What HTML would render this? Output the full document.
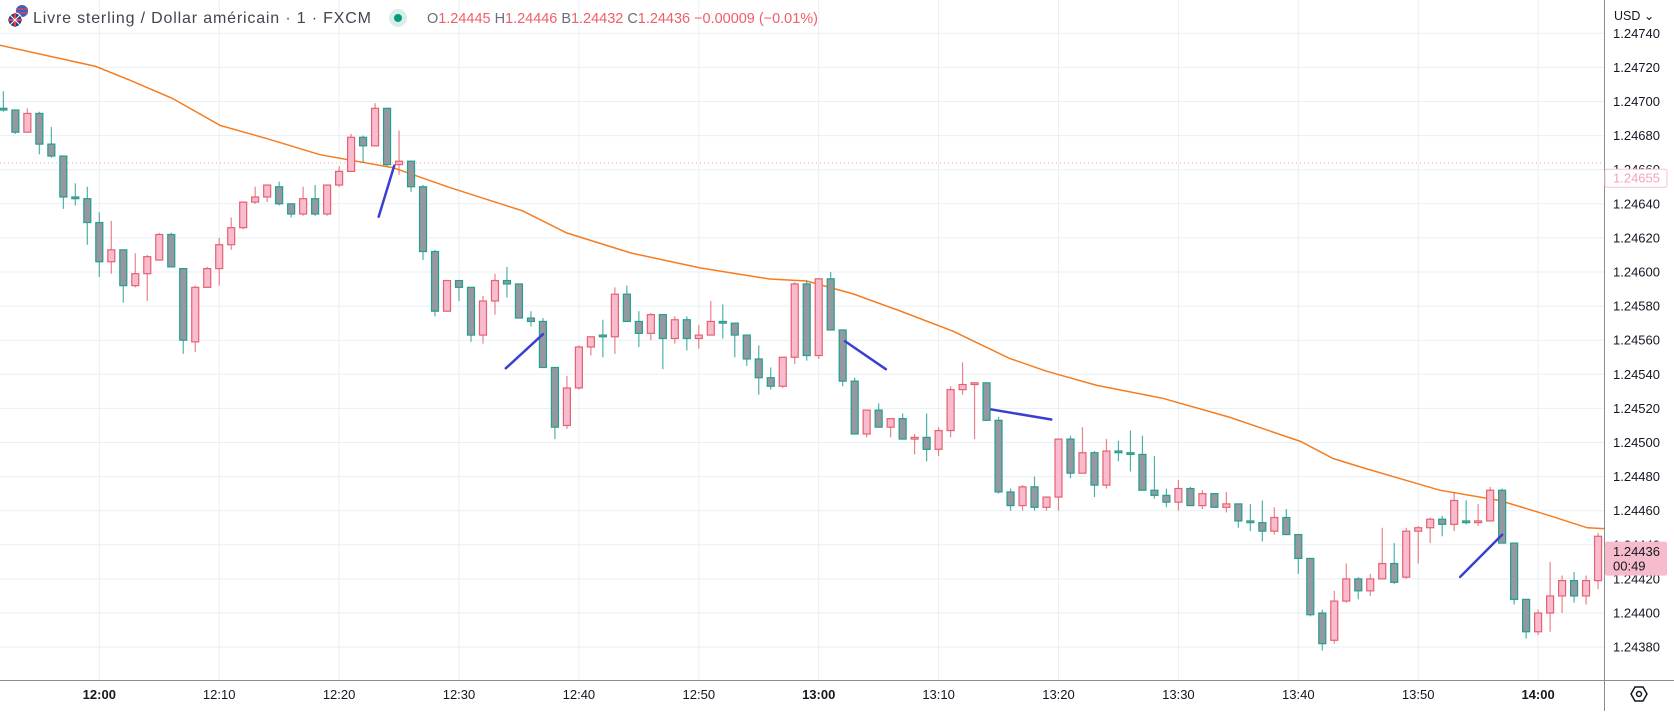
<!DOCTYPE html>
<html><head><meta charset="utf-8"><title>GBP/USD 1m</title>
<style>
html,body{margin:0;padding:0;background:#fff;}
body{width:1674px;height:711px;overflow:hidden;font-family:"Liberation Sans",sans-serif;}
svg text{font-family:"Liberation Sans",sans-serif;}
</style></head>
<body>
<svg id="chart" width="1674" height="711" viewBox="0 0 1674 711" xmlns="http://www.w3.org/2000/svg">
  <rect x="0" y="0" width="1674" height="711" fill="#ffffff"/>
  <g id="grid"></g>
  <g id="ma"></g>
  <g id="candles"></g>
  <g id="drawings"></g>
  <g id="axes"></g>
  <g>
    <g>
      <circle cx="22" cy="11" r="6" fill="#3b5fc0"/>
      <path d="M16 9h12M16 13h12" stroke="#e8434b" stroke-width="1.2"/>
      <circle cx="15" cy="20" r="7" fill="#2a3f8f" stroke="#fff" stroke-width="1"/>
      <path d="M8 20h14M15 13v14" stroke="#e8434b" stroke-width="2"/>
      <path d="M10 15l10 10M20 15l-10 10" stroke="#fff" stroke-width="1"/>
    </g>
    <text x="33" y="23" font-size="16" fill="#434651" textLength="338" lengthAdjust="spacing">Livre sterling / Dollar américain · 1 · FXCM</text>
    <circle cx="398" cy="18" r="9" fill="#d6efe9"/>
    <circle cx="398" cy="18" r="4" fill="#089981"/>
    <text x="427" y="23" font-size="14.5" textLength="391" lengthAdjust="spacing"><tspan fill="#6a6d78">O</tspan><tspan fill="#ef5f68">1.24445</tspan><tspan fill="#6a6d78"> H</tspan><tspan fill="#ef5f68">1.24446</tspan><tspan fill="#6a6d78"> B</tspan><tspan fill="#ef5f68">1.24432</tspan><tspan fill="#6a6d78"> C</tspan><tspan fill="#ef5f68">1.24436 −0.00009 (−0.01%)</tspan></text>
  </g>
</svg>
<script>
// candle data in price points: price = 1.24 + v / 100000
const minutes0 = -8; // first candle 11:52
const opens  = [696,695,682,693,675,668,644,643,629,606,613,592,599,607,622,602,559,591,602,616,626,641,644,650,640,634,643,634,651,659,679,674,696,663,665,650,612,577,595,591,563,583,595,593,573,571,544,510,532,556,563,562,587,571,564,575,561,572,561,563,571,570,563,549,538,533,550,593,551,596,566,536,505,519,509,514,502,503,496,507,531,534,535,513,471,463,474,462,468,502,482,494,475,495,494,493,472,469,465,473,463,470,462,464,454,453,448,456,446,432,400,384,407,420,413,420,429,421,448,450,455,452,454,453,454,472,441,408,389,400,410,419,410,419];
const highs  = [706,695,696,694,685,668,652,650,635,630,613,611,610,623,623,602,592,603,620,632,641,650,651,653,640,650,651,651,662,681,680,699,696,683,665,651,613,595,595,591,586,599,603,593,577,573,544,539,557,562,572,591,592,577,576,575,574,574,569,583,581,570,563,557,544,550,594,595,596,600,566,538,519,523,514,517,505,517,509,533,547,535,535,515,473,475,480,468,502,504,509,495,502,501,507,504,492,473,478,474,472,470,471,464,464,466,462,461,446,432,402,413,429,421,423,450,441,450,451,456,457,471,466,464,474,473,441,408,402,430,422,424,422,447];
const lows   = [694,681,682,669,667,637,639,616,597,599,582,591,583,607,603,552,553,591,592,613,625,640,641,639,632,633,633,633,650,659,664,674,662,657,647,607,574,577,583,559,558,575,585,573,568,544,502,508,531,551,550,552,571,556,560,543,558,554,555,563,561,550,545,528,531,532,546,548,549,566,533,505,503,509,503,502,493,489,492,503,528,502,513,470,460,460,460,460,460,479,482,468,473,489,483,472,467,462,460,463,461,462,459,450,448,442,446,446,423,398,378,382,406,408,410,420,417,420,429,441,445,448,452,451,454,441,405,385,387,389,400,406,405,414];
const closes = [695,682,693,675,668,644,643,629,606,613,592,599,609,622,603,560,591,602,616,626,641,644,651,640,634,643,634,651,659,679,674,696,663,665,650,612,577,595,591,563,583,595,593,573,571,544,509,532,556,562,562,587,571,564,575,561,572,561,563,571,570,563,549,538,533,550,593,551,596,566,536,505,519,509,514,502,503,496,507,531,534,535,513,471,463,474,462,468,502,482,494,475,495,494,493,472,469,465,473,463,470,462,464,454,453,448,456,446,432,399,382,407,420,413,420,429,418,448,450,455,452,466,453,454,472,441,408,389,400,410,419,410,419,445];
// 50-period moving average samples (minute offset from 12:00, value in points)
const maMinutes = [-8.3,-0.3,2.6,6.1,10.1,14.0,18.4,24.5,29.3,35.3,39.0,44.3,50.1,55.9,59.0,62.9,66.8,71.2,75.9,79.0,83.2,88.7,94.3,100.2,102.9,105.5,108.4,111.8,116.8,121.0,124.1,125.5];
const maValues  = [733,720.6,712.4,701.8,685.9,678.2,668.8,661.2,649.4,635.9,622.9,611.2,602.4,595.9,594.7,587.1,577.1,565.3,549.4,541.8,533.5,525.9,514.7,500.6,490.6,485,479,472,466,457,450,449.5];
// trend-line drawings: [startMinute, startValue, endMinute, endValue]
const lineStartMin = [23.3,33.9,62.2,74.4,113.5];
const lineStartVal = [632.4,543.5,559.4,519.4,421.2];
const lineEndMin   = [24.6,37.0,65.6,79.4,117.0];
const lineEndVal   = [662.4,563.5,543,513.5,445.9];
const yTickValues = [740,720,700,680,660,640,620,600,580,560,540,520,500,480,460,440,420,400,380];
const xTickMinutes = [0,10,20,30,40,50,60,70,80,90,100,110,120];
const xTickLabels = ["12:00","12:10","12:20","12:30","12:40","12:50","13:00","13:10","13:20","13:30","13:40","13:50","14:00"];
const lastPrice = 436;
const highlightPrice = 655;
const dashedPrice = 664;

const NS = "http://www.w3.org/2000/svg";
const PLOT_R = 1604, PLOT_B = 680;
function xScale(m){ return 99.3 + m * 11.99; }
function yScale(v){ return 33.3 + (740 - v) * 1.705; }
function fmt(v){ return (1.24 + v/100000).toFixed(5); }
function mk(tag, attrs, parent){
  const e = document.createElementNS(NS, tag);
  for (const k in attrs) e.setAttribute(k, attrs[k]);
  parent.appendChild(e);
  return e;
}
const grid = document.getElementById('grid');
const axes = document.getElementById('axes');
const candles = document.getElementById('candles');
const ma = document.getElementById('ma');
const drawings = document.getElementById('drawings');

yTickValues.forEach(v => {
  const l = mk('line', {x1:0, x2:PLOT_R, y1:yScale(v), y2:yScale(v), stroke:'#e9eff5', 'stroke-width':1}, grid);
  
  
});
xTickMinutes.forEach(m => {
  const l = mk('line', {x1:xScale(m), x2:xScale(m), y1:0, y2:PLOT_B, stroke:'#e9eff5', 'stroke-width':1}, grid);
  
  
});
const dl = mk('line', {x1:0, x2:PLOT_R, y1:yScale(dashedPrice), y2:yScale(dashedPrice), stroke:'#f5a3b8', 'stroke-width':1, 'stroke-dasharray':'1 3'}, grid);



let d = '';
maMinutes.forEach((m, i) => { d += (i ? 'L' : 'M') + xScale(m).toFixed(1) + ' ' + yScale(maValues[i]).toFixed(1); });
const maPath = mk('path', {d:d, fill:'none', stroke:'#f57c1f', 'stroke-width':1.5}, ma);



opens.forEach((o, i) => {
  const c = closes[i], h = highs[i], lo = lows[i];
  const x = xScale(minutes0 + i);
  const up = c > o;
  const border = up ? '#e5636f' : '#22a08e';
  const fill = up ? '#f8bbd0' : '#9598a1';
  const g = mk('g', {}, candles);
  
  
  mk('line', {x1:x, x2:x, y1:yScale(h), y2:yScale(lo), stroke:border, 'stroke-width':1.2, 'stroke-opacity':0.8}, g);
  const top = yScale(Math.max(o, c)), bot = yScale(Math.min(o, c));
  mk('rect', {x:x-3.5, y:top, width:7, height:Math.max(bot-top, 1.5), fill:fill, stroke:border, 'stroke-width':1.2}, g);
});

lineStartMin.forEach((m, i) => {
  const l = mk('line', {x1:xScale(m), y1:yScale(lineStartVal[i]), x2:xScale(lineEndMin[i]), y2:yScale(lineEndVal[i]), stroke:'#3b3fcf', 'stroke-width':2.5, 'stroke-linecap':'round'}, drawings);
  
  
});

const bgR = mk('rect', {x:PLOT_R, y:0, width:1674-PLOT_R, height:711, fill:'#ffffff'}, axes);


const bgB = mk('rect', {x:0, y:PLOT_B, width:PLOT_R, height:711-PLOT_B, fill:'#ffffff'}, axes);


const vb = mk('line', {x1:PLOT_R+0.5, x2:PLOT_R+0.5, y1:0, y2:711, stroke:'#8a8d96', 'stroke-width':1}, axes);


const hb = mk('line', {x1:0, x2:1674, y1:PLOT_B+0.5, y2:PLOT_B+0.5, stroke:'#8a8d96', 'stroke-width':1}, axes);



yTickValues.forEach(v => {
  const t = mk('text', {x:1613, y:yScale(v)+4.5, 'font-size':13, fill:'#131722'}, axes);
  t.textContent = fmt(v);
  
  
});
xTickMinutes.forEach((m, i) => {
  const bold = xTickLabels[i].endsWith(':00');
  const t = mk('text', {x:xScale(m), y:699, 'font-size':13, fill:'#131722', 'text-anchor':'middle', 'font-weight':bold?'bold':'normal'}, axes);
  t.textContent = xTickLabels[i];
  
  
});
const usd = mk('text', {x:1614, y:20, 'font-size':12.5, fill:'#131722'}, axes);
usd.textContent = 'USD ⌄';



const hy = yScale(highlightPrice);
const hbx = mk('rect', {x:1605, y:hy-9, width:62, height:18, fill:'#ffffff', stroke:'#f8c4d2', 'stroke-width':1, rx:2}, axes);


const ht = mk('text', {x:1613, y:hy+4.5, 'font-size':13, fill:'#f5a3b8'}, axes);
ht.textContent = fmt(highlightPrice);



const ly = yScale(lastPrice);
const lb = mk('rect', {x:1605, y:ly-10, width:62, height:34, fill:'#f7bccb', rx:2}, axes);


const lt = mk('text', {x:1613, y:ly+4.5, 'font-size':13, fill:'#131722'}, axes);
lt.textContent = fmt(lastPrice);


const ct = mk('text', {x:1613, y:ly+19, 'font-size':13, fill:'#131722'}, axes);
ct.textContent = '00:49';



const gear = mk('g', {}, axes);


mk('path', {d:'M1631 694 l4 -7 h8 l4 7 l-4 7 h-8 z', fill:'none', stroke:'#131722', 'stroke-width':1.5}, gear);
mk('circle', {cx:1639, cy:694, r:2.5, fill:'none', stroke:'#131722', 'stroke-width':1.5}, gear);
</script>
</body></html>
